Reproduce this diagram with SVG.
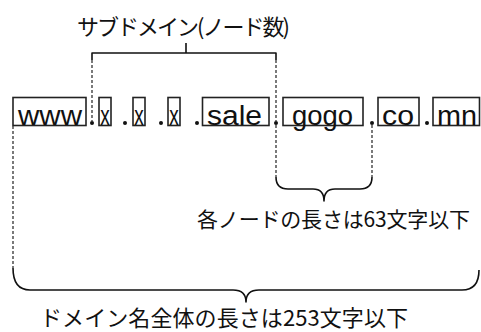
<svg xmlns="http://www.w3.org/2000/svg" width="481" height="332" viewBox="0 0 481 332">
<style>
.box{fill:none;stroke:#222;stroke-width:1.6}
.lbl{font-family:"Liberation Sans",Arial,sans-serif;font-size:27px;fill:#111}
.jp{font-family:"Noto Sans CJK JP","Noto Sans",sans-serif;fill:#111}
.dash{fill:none;stroke:#222;stroke-width:1.2;stroke-dasharray:3,2}
.solid{fill:none;stroke:#111;stroke-width:1.6;stroke-linejoin:round}
.dot{fill:#111}
</style>
<rect width="481" height="332" fill="#fff"/>
<g id="nodes">
<g id="n-www"><rect class="box" x="13" y="97.5" width="73" height="28"/><text class="lbl" x="18" y="125" textLength="64" lengthAdjust="spacingAndGlyphs">www</text></g>
<g id="n-x1"><rect class="box" x="99" y="97.5" width="12" height="28"/><text class="lbl" x="100.3" y="125" textLength="9.5" lengthAdjust="spacingAndGlyphs">x</text></g>
<g id="n-x2"><rect class="box" x="133" y="97.5" width="12" height="28"/><text class="lbl" x="134.3" y="125" textLength="9.5" lengthAdjust="spacingAndGlyphs">x</text></g>
<g id="n-x3"><rect class="box" x="168" y="97.5" width="12" height="28"/><text class="lbl" x="169.3" y="125" textLength="9.5" lengthAdjust="spacingAndGlyphs">x</text></g>
<g id="n-sale"><rect class="box" x="202.5" y="97.5" width="66.5" height="28"/><text class="lbl" x="207" y="125" textLength="55" lengthAdjust="spacingAndGlyphs">sale</text></g>
<g id="n-gogo"><rect class="box" x="283" y="97.5" width="80" height="28"/><text class="lbl" x="292" y="125" textLength="61" lengthAdjust="spacingAndGlyphs">gogo</text></g>
<g id="n-co"><rect class="box" x="378" y="97.5" width="41" height="28"/><text class="lbl" x="382" y="125" textLength="32" lengthAdjust="spacingAndGlyphs">co</text></g>
<g id="n-mn"><rect class="box" x="433" y="97.5" width="46.5" height="28"/><text class="lbl" x="437" y="125" textLength="40" lengthAdjust="spacingAndGlyphs">mn</text></g>
</g>
<g id="dots">
<circle class="dot" cx="92" cy="123" r="2"/>
<circle class="dot" cx="125" cy="123" r="2"/>
<circle class="dot" cx="161" cy="123" r="2"/>
<circle class="dot" cx="197" cy="123" r="2"/>
<circle class="dot" cx="276" cy="123" r="2"/>
<circle class="dot" cx="372" cy="123" r="2"/>
<circle class="dot" cx="427" cy="123" r="2"/>
</g>
<g id="connectors">
<path class="dash" d="M92,60 V121 M276,60 V121"/>
<path class="solid" d="M92,60 V53 H276 V60 M186,53 V43"/>
<path class="dash" d="M276,125 V177 M372,125 V177"/>
<path class="solid" d="M276,177 Q276,189 288,189 H313 Q324,189 324,201 Q324,189 335,189 H360 Q372,189 372,177"/>
<path class="dash" d="M13,126 V268"/>
<path class="solid" d="M13,268 Q13,290 30,290 H233 Q246,290 246,302 Q246,290 259,290 H462 Q479,290 479,270"/>
</g>
<g id="labels">
<text class="jp" x="77" y="35" font-size="22" textLength="213" lengthAdjust="spacing">サブドメイン(ノード数)</text>
<text class="jp" x="197" y="227" font-size="21" textLength="273" lengthAdjust="spacing">各ノードの長さは63文字以下</text>
<text class="jp" x="40" y="326" font-size="22" textLength="368" lengthAdjust="spacing">ドメイン名全体の長さは253文字以下</text>
</g>
</svg>
